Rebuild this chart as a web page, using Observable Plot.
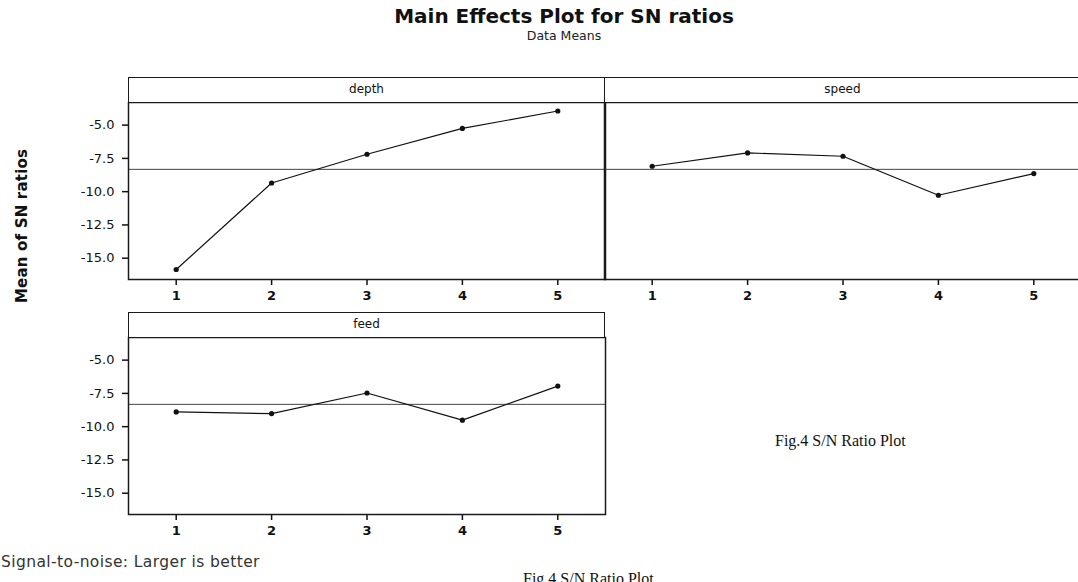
<!DOCTYPE html>
<html>
<head>
<meta charset="utf-8">
<script src="https://cdn.jsdelivr.net/npm/d3@7"></script>
<script src="https://cdn.jsdelivr.net/npm/@observablehq/plot@0.6"></script>
<style>
  html, body { margin: 0; padding: 0; background: #fff; }
  #root { position: relative; width: 1078px; height: 582px; overflow: hidden; background: #fff; font-family: "DejaVu Sans", sans-serif; }
  .abs { position: absolute; }
  .strip { position: absolute; box-sizing: border-box; border: 1.5px solid #1a1a1a; background: #fff;
           font-family: "DejaVu Sans", sans-serif; font-size: 12px; color: #111; text-align: center; line-height: 22px; }
</style>
</head>
<body>
<div id="root"></div>
<script>
// ---- data ----
const levels = [1, 2, 3, 4, 5];
const factors = ["depth", "speed", "feed"];
const depthSN = [-15.85, -9.35, -7.19, -5.25, -3.94];
const speedSN = [-8.09, -7.09, -7.34, -10.27, -8.64];
const feedSN  = [-8.89, -9.02, -7.47, -9.51, -6.95];
const yTicks = [-5.0, -7.5, -10.0, -12.5, -15.0];
const yDomain = [-16.6, -3.3];
const title = "Main Effects Plot for SN ratios";
const subtitle = "Data Means";
const yLabel = "Mean of SN ratios";
const footer = "Signal-to-noise: Larger is better";
const figCaption = "Fig.4 S/N Ratio Plot";

const seriesByFactor = { depth: depthSN, speed: speedSN, feed: feedSN };
const grandMean = d3.mean([...depthSN, ...speedSN, ...feedSN]);

const root = document.getElementById("root");

function addText(txt, css) {
  const d = document.createElement("div");
  d.className = "abs";
  d.textContent = txt;
  Object.assign(d.style, css);
  root.appendChild(d);
  return d;
}

// panel geometry (frame = data area under strip)
const W = 477, H = 177, STRIP = 25;
const panels = [
  { name: "depth", left: 128, top: 102, showY: true },
  { name: "speed", left: 604, top: 102, showY: false },
  { name: "feed",  left: 128, top: 337, showY: true }
];

for (const p of panels) {
  const vals = seriesByFactor[p.name];
  const rows = levels.map((l, i) => ({ level: l, sn: vals[i] }));
  const mL = 130, mR = 4, mT = 2, mB = 30;
  const chart = Plot.plot({
    width: mL + W + mR,
    height: mT + H + mB,
    marginLeft: mL, marginRight: mR, marginTop: mT, marginBottom: mB,
    style: { fontFamily: "DejaVu Sans, sans-serif", fontSize: "12px", color: "#111", background: "transparent", overflow: "visible" },
    x: { domain: [0.5, 5.5], axis: null },
    y: { domain: yDomain, axis: null },
    marks: [
      Plot.ruleY([grandMean], { stroke: "#444", strokeWidth: 1 }),
      Plot.line(rows, { x: "level", y: "sn", stroke: "#111", strokeWidth: 1.2 }),
      Plot.dot(rows, { x: "level", y: "sn", r: 2.6, fill: "#111", stroke: "none" }),
      Plot.axisX(levels, { anchor: "bottom", tickSize: 6, tickPadding: 5, tickFormat: d => String(d), fontSize: 13, fontWeight: "bold", strokeWidth: 1.5, label: null }),
      ...(p.showY ? [Plot.axisY(yTicks, { anchor: "left", tickSize: 6, tickPadding: 8, tickFormat: d => d.toFixed(1), fontSize: 13, strokeWidth: 1.5, label: null })] : []),
      Plot.frame({ stroke: "#1a1a1a", strokeWidth: 1.5 })
    ]
  });
  chart.style.position = "absolute";
  chart.style.left = (p.left - mL) + "px";
  chart.style.top = (p.top - mT) + "px";
  root.appendChild(chart);

  const strip = document.createElement("div");
  strip.className = "strip";
  strip.textContent = p.name;
  Object.assign(strip.style, { left: p.left + "px", top: (p.top - STRIP) + "px", width: W + "px", height: (STRIP + 1) + "px" });
  root.appendChild(strip);
}

// titles
addText(title, { left: "0px", width: "1128px", top: "4px", textAlign: "center", fontFamily: "DejaVu Sans, sans-serif", fontWeight: "bold", fontSize: "20px", color: "#111" });
addText(subtitle, { left: "0px", width: "1128px", top: "28px", textAlign: "center", fontFamily: "DejaVu Sans, sans-serif", fontSize: "12.5px", color: "#222" });

// y label (rotated)
addText(yLabel, { left: "22px", top: "226px", fontFamily: "DejaVu Sans, sans-serif", fontWeight: "bold", fontSize: "15px", color: "#111", letterSpacing: "0.2px", whiteSpace: "nowrap", transform: "translate(-50%,-50%) rotate(-90deg)" });

// footer and captions
addText(footer, { left: "1px", top: "553px", fontFamily: "DejaVu Sans, sans-serif", fontSize: "15.5px", color: "#333", letterSpacing: "0.4px", whiteSpace: "nowrap" });
addText(figCaption, { left: "775px", top: "432px", fontFamily: "Liberation Serif, serif", fontSize: "16px", color: "#111", whiteSpace: "nowrap" });
addText(figCaption, { left: "523px", top: "570px", fontFamily: "Liberation Serif, serif", fontSize: "16px", color: "#111", whiteSpace: "nowrap" });
</script>
</body>
</html>
